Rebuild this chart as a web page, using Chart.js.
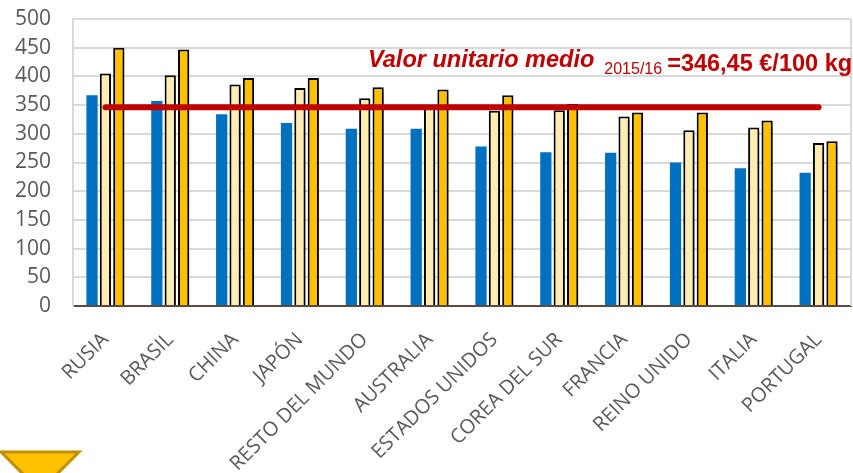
<!DOCTYPE html>
<html><head><meta charset="utf-8">
<script src="https://cdn.jsdelivr.net/npm/chart.js@4.4.1/dist/chart.umd.min.js"></script>
<style>html,body{margin:0;padding:0;background:#fff;overflow:hidden}canvas{display:block}</style>
</head><body>
<canvas id="c" width="853" height="473"></canvas>
<script>
const categories = ['RUSIA','BRASIL','CHINA','JAPÓN','RESTO DEL MUNDO','AUSTRALIA','ESTADOS UNIDOS','COREA DEL SUR','FRANCIA','REINO UNIDO','ITALIA','PORTUGAL'];
const serieA = [367,357,334,319,309,309,278,268,267,250,240,232];
const serieB = [405,402,386,380,362,346,340,341,330,306,311,284];
const serieC = [450,447,397,397,381,377,367,352,337,337,323,287];
const mediaLine = [346.45,346.45,346.45,346.45,346.45,346.45,346.45,346.45,346.45,346.45,346.45,346.45];
const yTicks = [0,50,100,150,200,250,300,350,400,450,500];
const annotationMain = 'Valor unitario medio';
const annotationSub = '2015/16';
const annotationValue = '=346,45 €/100 kg';

const decor = {
  id: 'decor',
  beforeDatasetsDraw(chart) {
    const {ctx, chartArea: a} = chart;
    ctx.save();
    ctx.strokeStyle = '#d9d9d9';
    ctx.lineWidth = 2;
    ctx.beginPath();
    ctx.moveTo(a.right, a.top); ctx.lineTo(a.right, a.bottom);
    ctx.stroke();
    ctx.restore();
  },
  beforeDatasetDraw(chart, args) {
    const ds = chart.data.datasets[args.index];
    if (ds.shadow) {
      const ctx = chart.ctx;
      ctx.save();
      ctx.shadowColor = 'rgba(0,0,0,0.3)';
      ctx.shadowOffsetX = 2;
      ctx.shadowOffsetY = 4;
      ctx.shadowBlur = 1;
      chart._shadowSaved = true;
    }
  },
  afterDatasetDraw(chart, args) {
    const ds = chart.data.datasets[args.index];
    if (ds.shadow && chart._shadowSaved) {
      chart.ctx.restore();
      chart._shadowSaved = false;
    }
  },
  afterDraw(chart) {
    const ctx = chart.ctx;
    ctx.save();
    ctx.fillStyle = '#c00000';
    ctx.textBaseline = 'alphabetic';
    ctx.font = 'italic bold 23.5px "Liberation Sans"';
    ctx.fillText(annotationMain, 368, 67);
    let x = 368 + ctx.measureText(annotationMain).width + 10;
    ctx.font = '16px "Liberation Sans"';
    ctx.fillText(annotationSub, x, 74);
    x += ctx.measureText(annotationSub).width + 5;
    ctx.font = 'bold 23.5px "Liberation Sans"';
    ctx.fillText(annotationValue, x, 71);
    // yellow arrow decoration
    ctx.beginPath();
    ctx.moveTo(1, 452); ctx.lineTo(79, 452); ctx.lineTo(40, 491); ctx.closePath();
    ctx.fillStyle = '#ffc000';
    ctx.fill();
    ctx.strokeStyle = '#bf9000';
    ctx.lineWidth = 3;
    ctx.stroke();
    ctx.restore();
  }
};

new Chart(document.getElementById('c'), {
  type: 'bar',
  data: {
    labels: categories,
    datasets: [
      {type: 'line', label: 'Media', data: mediaLine, borderColor: '#c00000', borderWidth: 6, pointRadius: 0, borderCapStyle: 'round', order: 0, fill: false},
      {label: '2013/14', data: serieA, backgroundColor: '#0070c0', borderWidth: 0, order: 1},
      {label: '2014/15', data: serieB, backgroundColor: '#ffecb3', borderColor: '#000000', borderWidth: 2, order: 1, shadow: true},
      {label: '2015/16', data: serieC, backgroundColor: '#ffc000', borderColor: '#000000', borderWidth: 2, order: 1, shadow: true}
    ]
  },
  options: {
    responsive: false,
    animation: false,
    devicePixelRatio: 1,
    layout: {padding: {top: 19, right: 2, left: 0, bottom: 0}},
    plugins: {legend: {display: false}, tooltip: {enabled: false}},
    datasets: {bar: {categoryPercentage: 0.62, barPercentage: 0.84}},
    scales: {
      x: {
        grid: {display: false},
        border: {color: '#5a4a40', width: 2},
        ticks: {color: '#595959', font: {family: '"Open Sans"', size: 20}, minRotation: 45, maxRotation: 45, padding: 14, autoSkip: false},
        afterFit(s) { s.height = 167; s.paddingLeft = 0; s.paddingRight = 0; s.paddingTop = 0; s.paddingBottom = 0; }
      },
      y: {
        min: 0, max: 500,
        afterBuildTicks(s) { s.ticks = yTicks.map(v => ({value: v})); },
        grid: {color: '#d9d9d9', lineWidth: 2, drawTicks: false},
        border: {color: '#d9d9d9', width: 2},
        ticks: {color: '#595959', font: {family: '"Open Sans"', size: 21}, padding: 22, autoSkip: false},
        afterFit(s) { s.width = 73; s.paddingTop = 0; s.paddingBottom = 0; }
      }
    }
  },
  plugins: [decor]
});
</script>
</body></html>
